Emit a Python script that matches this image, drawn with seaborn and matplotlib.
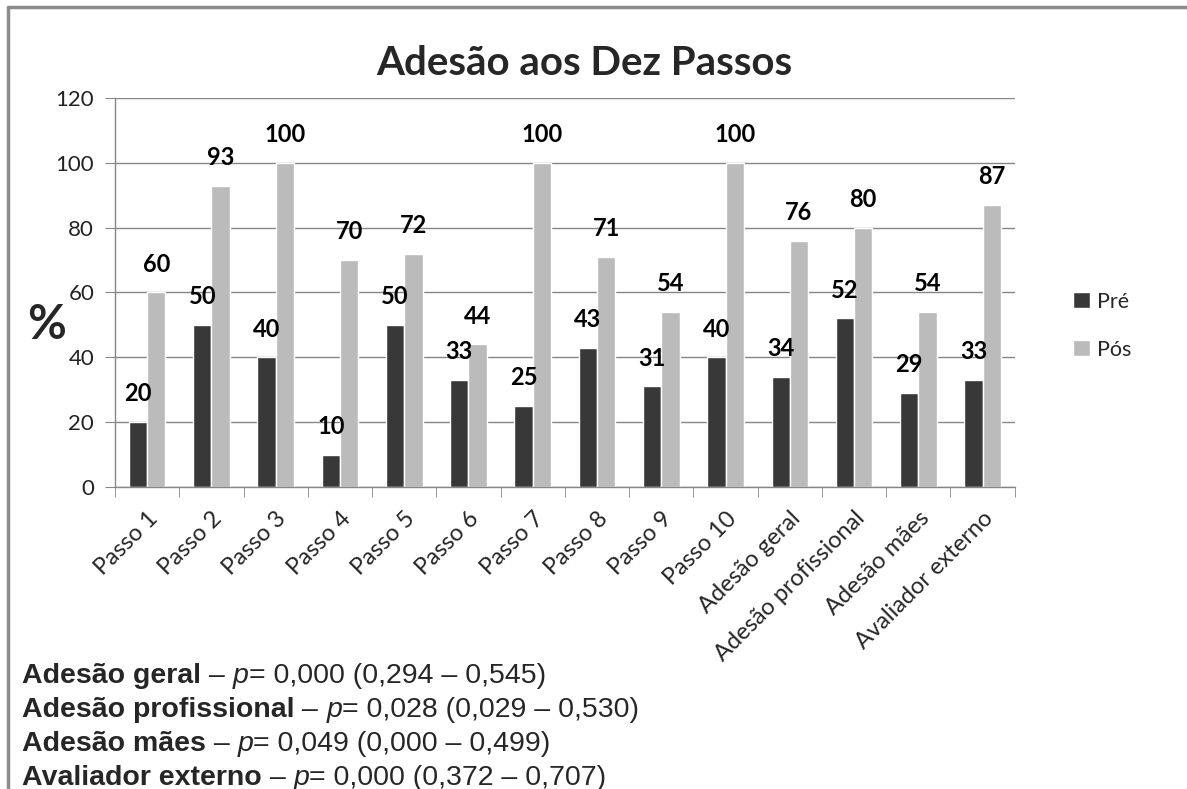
import pandas as pd
import matplotlib
matplotlib.use("Agg")
import matplotlib.pyplot as plt
import matplotlib.lines as mlines
import seaborn as sns

categories = ['Passo 1', 'Passo 2', 'Passo 3', 'Passo 4', 'Passo 5', 'Passo 6',
              'Passo 7', 'Passo 8', 'Passo 9', 'Passo 10', 'Adesão geral',
              'Adesão profissional', 'Adesão mães', 'Avaliador externo']
pre = [20, 50, 40, 10, 50, 33, 25, 43, 31, 40, 34, 52, 29, 33]
pos = [60, 93, 100, 70, 72, 44, 100, 71, 54, 100, 76, 80, 54, 87]
series_names = ['Pré', 'Pós']
series_colors = ['#383838', '#BBBBBB']

note_names = ['Adesão geral', 'Adesão profissional', 'Adesão mães', 'Avaliador externo']
note_p = ['0,000', '0,028', '0,049', '0,000']
note_ci = ['(0,294 – 0,545)', '(0,029 – 0,530)', '(0,000 – 0,499)', '(0,372 – 0,707)']

df = pd.DataFrame({
    'cat': categories * 2,
    'val': pre + pos,
    'serie': [series_names[0]] * len(pre) + [series_names[1]] * len(pos),
})

sns.set_style('white')
plt.rcParams['font.family'] = ['Lato', 'DejaVu Sans']

fig = plt.figure(figsize=(11.87, 7.89), dpi=100)
ax = fig.add_axes([0.0969, 0.3828, 0.758, 0.493])

sns.barplot(data=df, x='cat', y='val', hue='serie', order=categories,
            hue_order=series_names, palette=series_colors, width=0.57,
            saturation=1, ax=ax, legend=True)

for cont in ax.containers:
    ax.bar_label(cont, padding=12, fontsize=17, fontweight='bold', color='black')

ax.set_ylim(0, 120)
ax.set_yticks(range(0, 121, 20))
ax.set_xlim(-0.5, len(categories) - 0.5)
ax.yaxis.grid(True, color='#868686', lw=1)
ax.set_axisbelow(True)
for s in ['top', 'right']:
    ax.spines[s].set_visible(False)
for s in ['left', 'bottom']:
    ax.spines[s].set_color('#868686')
    ax.spines[s].set_linewidth(1)

ax.set_xlabel('')
ax.set_ylabel('%', fontsize=34, fontweight='bold', rotation=0, va='center', ha='center')
ax.yaxis.set_label_coords(-0.0756, 0.4165)
ax.tick_params(axis='y', labelsize=16, length=7, direction='out', color='#868686',
               left=True, pad=8, labelcolor='#222222')
ax.set_xticks(range(len(categories)))
ax.set_xticklabels(categories, rotation=45, ha='right', rotation_mode='anchor', fontsize=17)
ax.tick_params(axis='x', which='major', length=0, pad=15)
ax.set_xticks([i - 0.5 for i in range(len(categories) + 1)], minor=True)
ax.tick_params(axis='x', which='minor', length=7, direction='out', color='#868686', bottom=True)

fig.text(0.492, 1 - 75 / 789, 'Adesão aos Dez Passos', fontsize=29, fontweight='bold',
         ha='center', va='baseline')

leg = ax.legend(loc='center left', bbox_to_anchor=(0.888, 0.587),
                bbox_transform=fig.transFigure, frameon=False,
                fontsize=15.5, handlelength=0.75, handleheight=0.75, handletextpad=0.35,
                labelspacing=1.3)

# bottom notes: bold name, italic p, plain numbers
y0 = 1 - 683 / 789
for i, name in enumerate(note_names):
    y = y0 - i * 34 / 789
    t1 = fig.text(0.0185, y, name, fontsize=20.5, fontweight='bold',
                  family='Liberation Sans', va='baseline')
    a1 = ax.annotate(' – ', xy=(1, 0), xycoords=t1, va='bottom', fontsize=20.5,
                     family='Liberation Sans', annotation_clip=False)
    a2 = ax.annotate('p', xy=(1, 0), xycoords=a1, va='bottom', fontsize=20.5,
                     family='Liberation Sans', style='italic', annotation_clip=False)
    ax.annotate('= ' + note_p[i] + ' ' + note_ci[i], xy=(1, 0), xycoords=a2,
                va='bottom', fontsize=20.5, family='Liberation Sans',
                annotation_clip=False)

# outer frame (top and left edges)
fig.add_artist(mlines.Line2D([0.007, 1.0], [0.9915, 0.9915], color='#8c8c8c', lw=2.5,
                             transform=fig.transFigure))
fig.add_artist(mlines.Line2D([0.007, 0.007], [0.0, 0.9915], color='#8c8c8c', lw=2.5,
                             transform=fig.transFigure))

fig.savefig('out.png', dpi=100)
